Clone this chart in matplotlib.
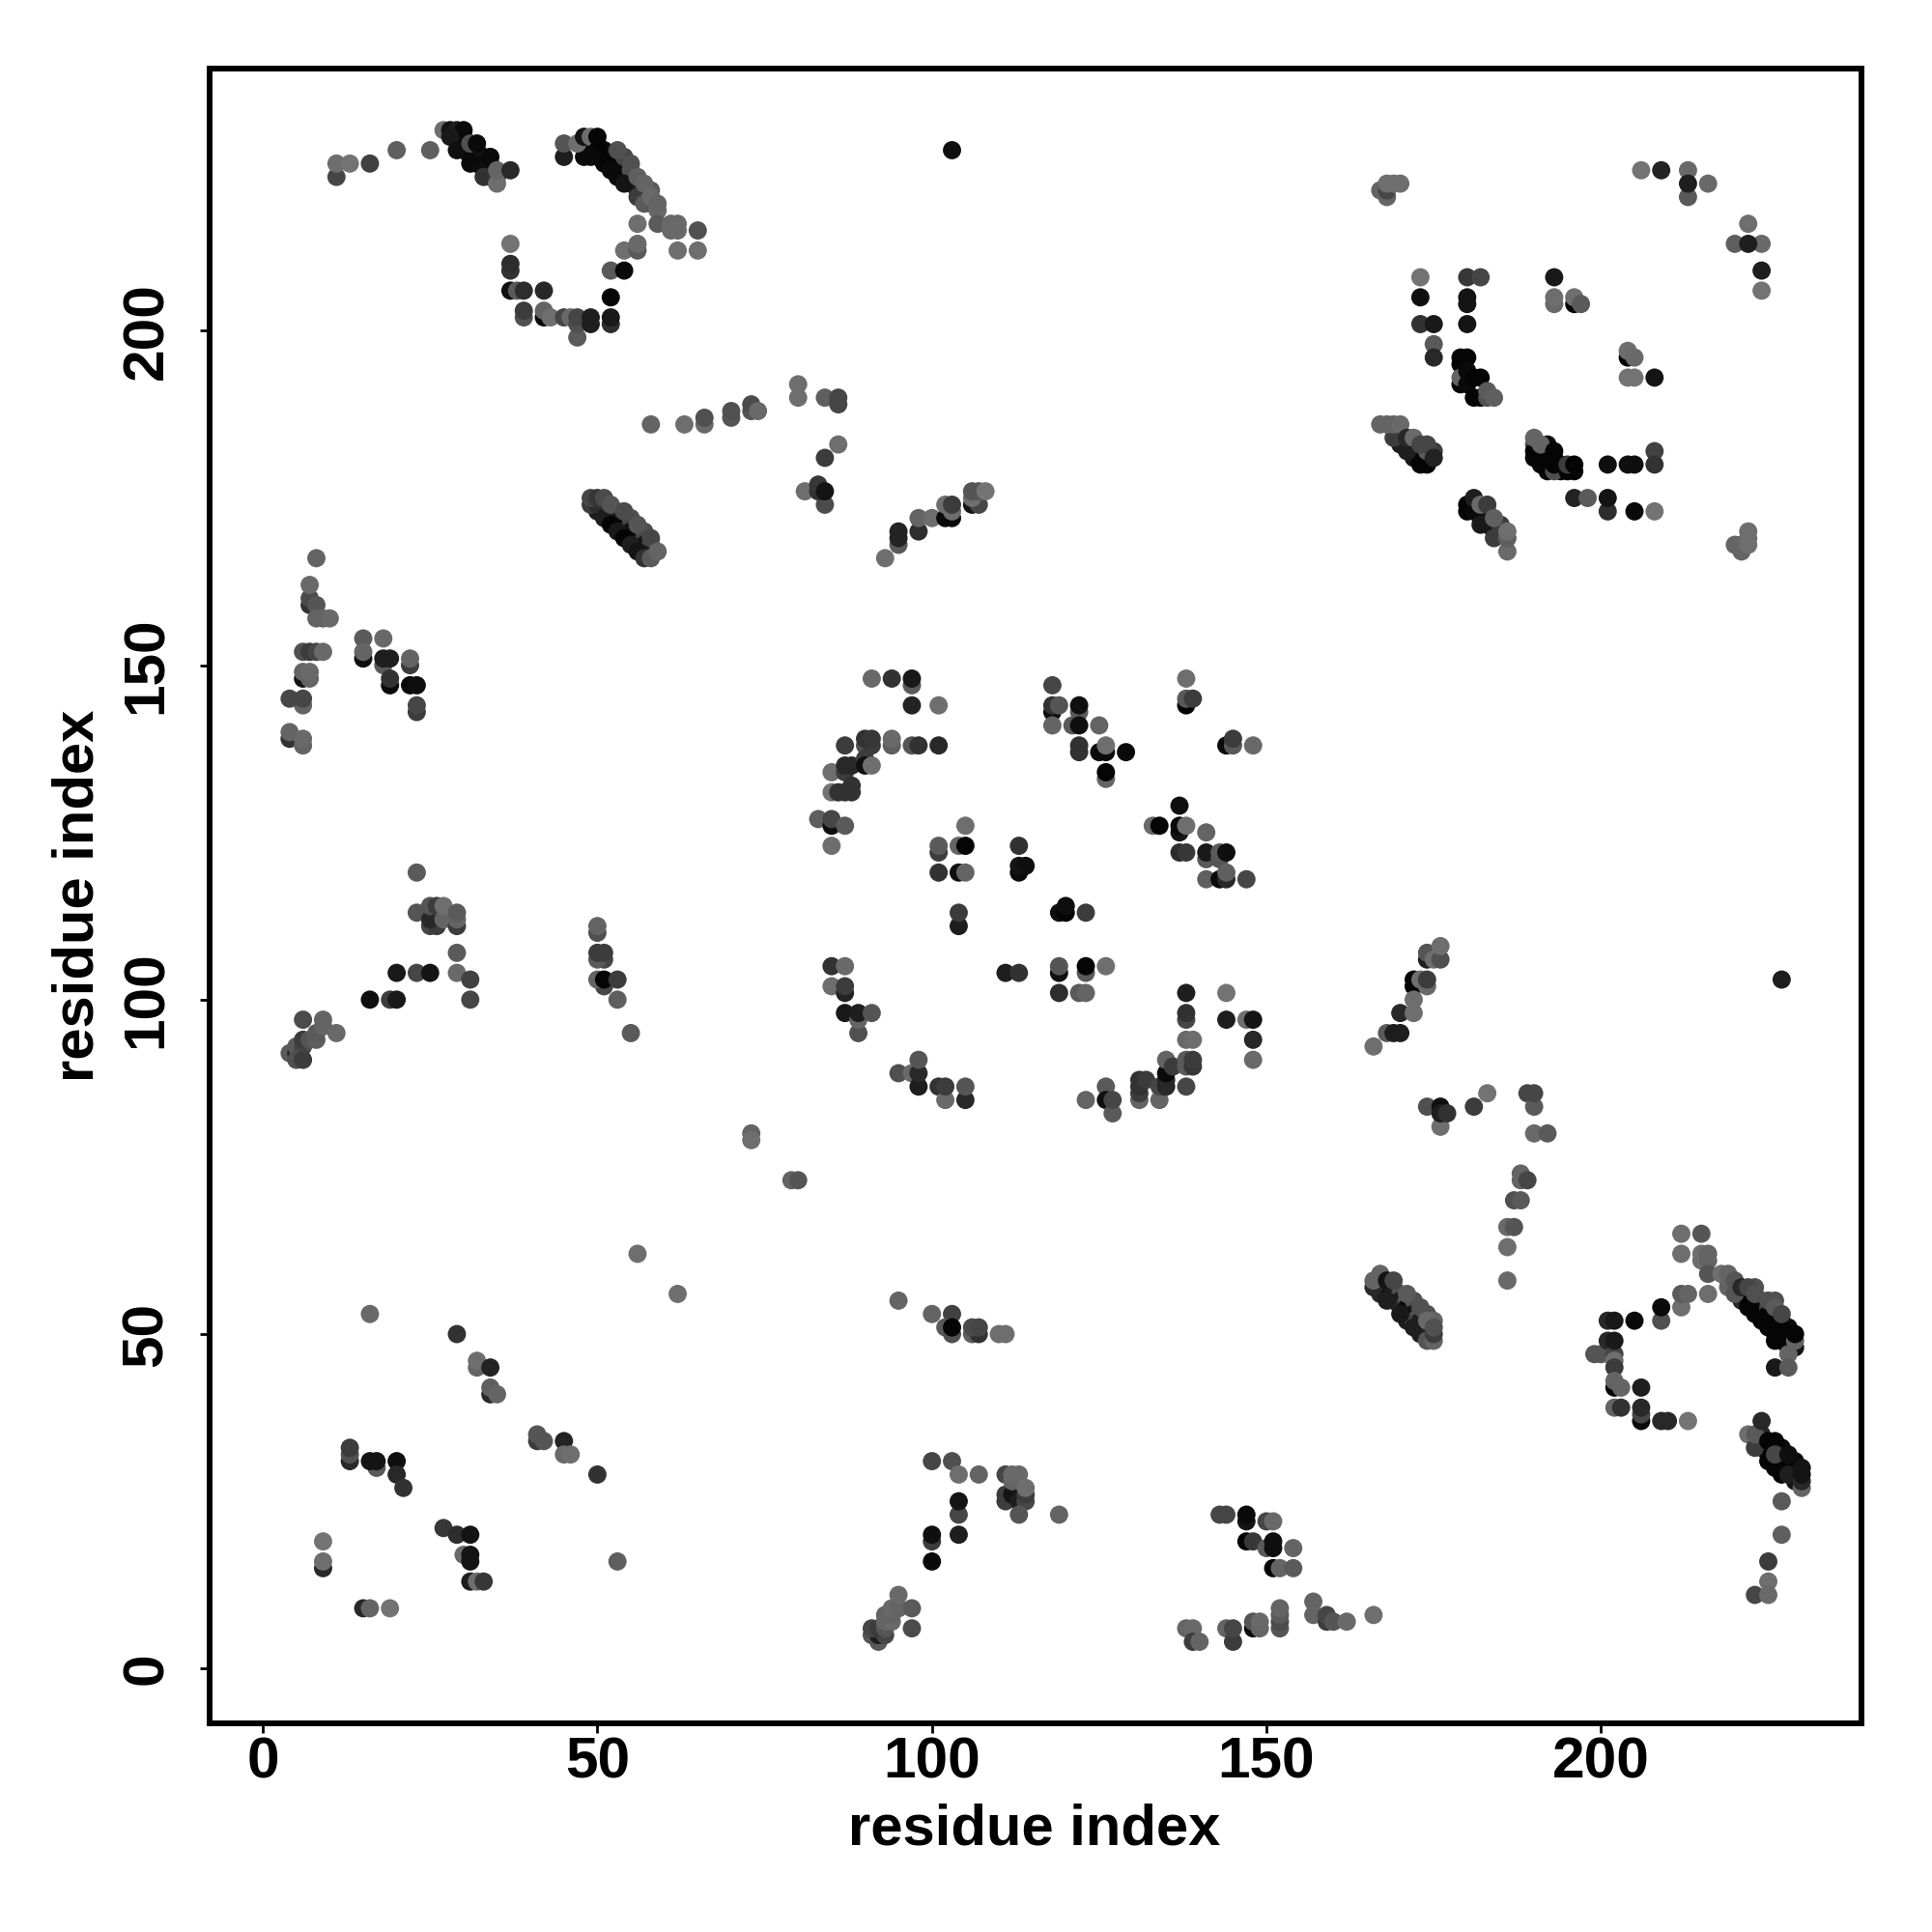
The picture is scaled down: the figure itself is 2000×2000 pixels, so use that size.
import numpy as np
import matplotlib
matplotlib.use('Agg')
import matplotlib.pyplot as plt

plt.rcParams['font.family'] = ['Liberation Sans', 'DejaVu Sans']

# contacts: (residue i, residue j, grey level 0-255)
# later entries sit on top of earlier ones

# contacts mostly hidden inside the dense diagonal bands, drawn first
band_under = [(29,229,15),(30,229,10),(30,228,10),(30,227,10),(31,227,10),(32,227,15),(31,226,10),(32,226,10),
    (33,226,20),(32,225,20),(33,225,10),(34,225,15),(33,224,15),(34,224,15),(34,223,30),(35,223,70),
    (48,228,10),(49,228,5),(49,227,10),(50,228,5),(50,226,5),(51,227,10),(51,226,5),(51,225,5),(48,226,10),
    (52,226,10),(52,225,5),(53,225,5),(53,224,10),(53,223,10),(54,224,15),(54,223,10),(55,223,15),
    (55,222,20),(56,222,30),(56,221,30),(57,221,40),(57,220,50),(54,226,70),(55,224,80),(58,221,90),(58,219,100),
    (50,173,30),(51,173,15),(52,173,70),(53,173,70),(52,172,10),(53,172,30),(53,171,30),(54,171,10),(54,170,20),
    (55,172,80),(55,171,70),(55,170,15),(55,169,20),(56,169,10),(56,168,15),(57,170,80),(57,169,70),
    (57,168,20),(57,167,25),(58,168,70),(58,167,30),
    (170,184,50),(170,183,30),(172,183,30),(172,182,30),(172,181,20),(173,182,15),(173,181,10),(174,181,10),(175,182,60),
    (181,174,10),(182,173,10),(182,172,20),(183,173,40),(183,172,20),(183,171,20),(184,170,25),(185,171,60),(185,170,60),
    (190,183,80),(191,182,10),(191,181,5),(191,180,10),(192,183,10),(192,182,10),(192,181,5),(192,180,5),(194,180,5),(194,179,5),
    (167,56,40),(167,57,30),(168,56,20),(169,57,80),(169,56,30),(169,55,10),(170,56,80),(170,55,30),(170,54,40),
    (171,55,90),(171,54,10),(171,52,30),(172,55,80),(172,53,20),(172,52,70),(173,53,85),(173,52,30),(173,50,30),
    (174,53,80),(174,51,20),(174,50,40),(175,52,100),
    (219,58,80),(220,57,50),(221,56,20),(221,55,40),(222,56,30),(222,55,5),(223,57,80),(223,55,5),(223,54,5),(223,53,5),
    (224,55,70),(224,54,10),(224,53,5),(225,54,70),(225,53,5),(225,52,5),(225,51,5),(226,55,80),(226,53,5),(226,52,5),
    (226,51,5),(226,50,5),(227,52,5),(227,50,5),(227,49,5),(228,51,10),(228,50,5),
    (224,35,40),(224,34,50),(224,33,40),(225,33,5),(225,32,5),(226,33,5),(226,31,5),(226,30,10),(227,33,10),(227,32,5),
    (227,31,5),(227,30,5),(228,31,5),(228,30,5),(229,31,10),(229,30,5),(229,29,5),(229,28,20)]

top_left = [(11,223,70),(11,225,110),(13,225,115),(16,225,65),(20,227,95),(25,227,95),
    (27,230,110),(28,230,20),(29,230,30),(30,230,10),(28,229,25),(29,227,15),(31,228,80),(32,228,10),
    (31,225,10),(33,223,50),(34,226,10),(35,222,110),(35,224,100),(37,224,40),
    (45,226,30),(45,228,85),(47,228,110),(48,229,20),(49,229,110),(50,229,5),(50,227,5),(49,226,10),
    (52,224,10),(54,222,20),(53,227,80),(55,225,80),(56,220,60),(56,223,95),(57,222,100),(57,219,90),
    (58,220,105),(59,218,105),(59,219,100),(56,216,110),(59,216,90),(61,215,105),(62,215,105),
    (61,216,105),(62,216,105),(65,215,80),(62,212,110),(65,212,110),(54,212,110),(56,212,90),(56,213,105),
    (37,213,115),(37,209,50),(37,210,45),(52,209,90),(54,209,10),(37,206,15),(38,206,90),(39,206,45),
    (42,206,40),(52,205,5),(39,202,80),(39,203,60),(42,202,10),(42,203,100),(43,202,110),(45,202,70),
    (46,202,105),(47,199,90),(47,201,80),(47,202,70),(49,201,30),(49,202,30),(52,201,45),(52,202,25)]

top_middle = [(58,186,100),(63,186,110),(66,186,105),(66,187,80),(70,187,85),(70,188,80),(73,188,85),
    (73,189,75),(74,188,105),(80,192,110),(80,190,110),(84,190,95),(86,189,70),(86,190,70),(86,183,110),
    (84,181,60),(81,176,110),(84,174,75),(83,176,50),(83,177,55),(84,176,20),
    (49,174,60),(50,174,45),(51,172,30),(52,171,5),(53,170,25),(54,169,5),(55,168,30),(56,167,20),
    (57,166,50),(49,175,70),(50,175,55),(51,175,75),(52,174,85),(54,173,75),(56,171,85),(58,169,70),
    (58,166,90),(59,167,100),
    (93,166,110),(95,168,90),(95,169,35),(95,170,35),(98,170,45),(98,172,100),(100,172,110),(102,172,10),
    (103,172,10),(102,174,110),(103,173,110),(103,174,60),(106,174,20),(107,174,70),(106,175,110),
    (106,176,85),(107,176,85),(108,176,115),(103,227,15)]

top_right = [(206,224,115),(209,224,35),(213,220,90),(213,224,105),(213,222,30),(216,222,105),(222,216,110),
    (220,213,95),(224,213,105),(222,213,30),(224,209,30),(224,206,115),(173,208,115),(180,208,55),
    (182,208,70),(173,205,15),(180,204,20),(180,205,20),(173,201,50),(175,201,25),(180,201,20),
    (175,198,90),(175,196,40),(179,195,5),(179,196,5),(180,196,5),(179,192,5),(179,193,100),(180,192,10),
    (180,194,10),(181,193,5),(182,193,5),(181,190,5),(182,190,5),(183,190,80),(183,191,90),(184,190,95),
    (168,220,100),(167,221,100),(168,221,70),(168,222,110),(169,222,110),(170,222,110),
    (193,208,25),(193,204,105),(193,205,110),(196,204,5),(196,205,110),(197,204,90),
    (204,196,5),(204,197,110),(205,196,105),(204,193,115),(205,193,115),(208,193,20),
    (169,184,60),(167,186,100),(168,186,100),(169,186,100),(170,186,105),(171,182,30),(171,184,40),
    (172,184,105),(173,180,5),(174,180,5),(174,182,90),(173,183,70),(174,183,70),(175,181,35),
    (180,173,5),(180,174,5),(181,173,10),(181,175,30),(182,174,105),(183,174,60),(182,171,25),(184,169,60),
    (184,172,95),(186,167,105),(186,169,95),(186,170,110),
    (190,181,5),(190,182,5),(190,184,100),(191,183,100),(192,179,5),(193,179,80),(193,180,5),(193,181,5),
    (193,182,5),(195,179,5),(196,179,5),(195,180,60),(196,180,5),(201,180,15),(204,180,15),(205,180,15),
    (208,182,65),(208,180,50),(196,175,35),(198,175,90),(201,173,45),(201,175,20),(205,173,10),(208,173,115),
    (221,168,60),(220,168,100),(221,167,100),(222,168,110),(222,169,110),(222,170,110)]

mid_left = [(8,166,100),(7,159,50),(7,160,75),(8,159,85),(7,162,105),(8,157,100),(9,157,100),(10,157,105),
    (6,152,80),(7,152,60),(8,152,70),(9,152,105),(6,148,20),(7,148,100),(6,149,100),(7,149,105),
    (6,144,100),(4,145,70),(6,145,70),(4,139,50),(4,140,100),(6,138,100),(6,139,105),
    (15,154,90),(18,154,105),(15,151,15),(15,152,100),(18,150,90),(18,151,30),(19,151,30),(22,150,60),
    (22,151,100),(19,147,10),(19,148,50),(22,147,10),(23,147,15),(23,143,60),(23,144,70),
    (23,119,90),(23,113,85),(25,111,70),(26,111,60),(25,112,40),(25,114,85),(26,114,60),(27,112,100),
    (27,114,110),(29,111,60),(29,112,100),(29,113,90),(29,107,90),(29,104,105),(31,103,65),(31,100,70),
    (20,104,25),(23,104,70),(25,104,20),(16,100,15),(19,100,60),(20,100,25),
    (6,97,75),(9,97,100),(4,92,90),(5,92,30),(5,93,90),(6,93,70),(5,91,80),(6,91,60),(6,94,60),(7,94,85),
    (8,94,95),(8,95,90),(9,96,100),(11,95,105),
    (50,110,80),(50,111,100),(51,106,70),(50,106,90),(50,107,60),(51,107,60),(51,102,70),(50,103,100),(51,103,5),
    (53,103,60),(53,100,95),(55,95,90)]

center = [(91,148,105),(94,148,50),(97,147,90),(97,148,25),(97,144,35),(101,144,110),
    (87,138,60),(90,138,80),(91,138,60),(90,139,50),(91,139,55),(94,138,95),(94,139,105),(97,138,85),
    (98,138,50),(101,138,40),(85,134,110),(87,134,60),(87,135,40),(88,135,40),(90,136,60),(90,135,15),
    (91,135,110),(85,131,115),(86,131,50),(87,131,50),(88,131,50),(88,132,50),(83,127,95),(85,126,15),
    (85,127,70),(87,126,90),(85,123,110),(105,126,110),(101,122,60),(101,123,90),(104,123,100),(105,123,5),
    (101,119,50),(104,119,15),(105,119,100),(104,111,30),(104,113,60),(113,123,50),(113,119,10),(113,120,20),
    (114,120,15),(119,113,15),(120,113,5),(120,114,15),(123,113,60),
    (118,147,70),(118,143,15),(118,144,50),(119,144,85),(122,143,90),(122,144,15),(118,141,100),(121,141,90),
    (122,141,15),(125,141,100),(122,137,50),(122,138,50),(125,137,10),(126,137,10),(126,138,110),(129,137,10),
    (126,133,100),(126,134,5),(138,148,110),(138,144,5),(138,145,90),(139,145,60),(144,138,10),(145,138,90),
    (145,139,60),(148,138,105),(137,129,15),(133,126,105),(134,126,5),(137,125,20),(137,126,10),(138,126,110),
    (141,125,100),(137,122,45),(138,122,55),(141,121,90),(141,122,25),(143,121,85),(143,122,90),(144,122,15),
    (141,118,95),(143,118,10),(144,118,40),(144,119,95),(147,118,70),
    (85,105,50),(87,105,105),(85,102,110),(87,101,35),(87,102,60),(87,98,25),(89,95,80),(89,97,100),(89,98,30),
    (91,98,85),(111,104,30),(113,104,50),(119,104,15),(119,105,85),(123,104,90),(123,105,5),(126,105,110),
    (119,101,45),(122,101,90),(123,101,100),(138,101,30),(144,101,115),(138,97,70),(138,98,50),(144,97,30),
    (147,97,110),(148,97,20),(148,94,40),(148,91,105),(138,94,105),(139,94,110),
    (95,89,80),(97,89,105),(98,87,30),(98,89,40),(98,91,85),(101,87,50),(102,85,105),(102,87,60),(105,85,40),
    (105,87,85),(123,85,100),(126,87,90),(126,85,15),(127,83,90),(127,85,70),(131,85,100),(131,86,60),
    (131,87,50),(131,88,50),(132,88,60),(134,85,100),(134,87,70),(135,87,40),(135,88,40),(135,89,10),
    (135,91,100),(136,90,60),(138,90,90),(138,91,90),(139,90,55),(139,91,60),(138,87,70),(79,73,100),(80,73,85),
    (73,80,100),(73,79,110)]

mid_right = [(174,106,30),(174,107,85),(175,106,110),(176,106,80),(176,108,110),(172,102,5),(172,103,5),
    (173,103,110),(174,102,105),(174,103,60),(172,100,110),(170,98,40),(172,98,110),(168,95,90),(169,95,30),
    (170,95,30),(166,93,110),(227,103,30),
    (174,84,80),(176,81,110),(176,84,15),(176,83,30),(177,83,50),(181,84,60),(183,86,115),(189,86,70),
    (190,84,90),(190,86,70),(190,80,105),(192,80,90),(188,74,100),(188,73,100),(189,73,70),(187,70,80),
    (188,70,90),(186,66,105),(187,66,85),(186,63,110),(186,58,105)]

bottom_right = [(166,57,40),(166,58,100),(167,59,100),(168,55,30),(168,58,20),(169,58,70),(170,53,25),(171,56,90),
    (172,51,30),(173,54,80),(174,52,105),(174,49,85),(175,49,100),(175,50,60),(175,51,80),
    (212,65,110),(215,65,85),(212,62,110),(215,61,110),(215,62,110),(216,61,100),(216,62,100),(216,59,85),
    (212,54,110),(212,56,90),(213,56,100),(216,56,110),(209,52,80),(209,54,10),(205,52,10),(201,52,40),
    (202,52,25),(199,47,85),(200,47,85),(201,49,40),(202,47,70),(202,49,25),(202,46,110),(202,45,60),
    (202,42,5),(202,43,100),(203,42,100),(206,42,30),(202,39,100),(203,39,50),(206,37,10),(206,38,70),
    (206,39,40),(209,37,40),(210,37,40),(213,37,115),
    (218,59,110),(219,57,100),(219,59,100),(220,56,85),(220,58,85),(221,57,40),(222,54,5),(222,57,70),
    (224,52,5),(223,56,80),(225,55,80),(226,49,5),(226,54,90),(227,51,5),(227,53,70),(228,48,5),(228,49,5),
    (229,48,20),(229,49,100),(229,50,5),(228,47,100),(226,45,25),(228,45,90),
    (222,35,110),(223,33,60),(223,35,90),(224,37,40),(225,31,5),(225,34,5),(226,34,5),(226,32,70),(227,29,5),
    (228,32,15),(228,29,30),(230,27,100),(230,28,40),(230,29,20),(230,30,20),
    (227,25,90),(227,20,95),(225,16,60),(225,13,110),(223,11,70),(225,11,105)]

bottom_left = [(56,62,110),(62,56,110),(16,53,105),(29,50,50),(32,45,100),(32,46,110),(34,45,35),(34,41,40),
    (34,42,95),(35,41,100),(41,34,60),(41,35,85),(42,34,85),(45,34,35),(45,32,105),(46,32,110),(50,29,50),
    (13,31,40),(13,32,80),(13,33,60),(17,30,90),(16,31,20),(17,31,20),(20,31,15),(20,29,40),(21,27,50),
    (27,21,55),(29,20,45),(31,20,20),(30,17,105),(31,16,20),(31,17,20),(31,13,30),(32,13,110),(33,13,55),
    (9,19,115),(9,15,40),(9,16,110),(53,16,95),(15,9,40),(16,9,100),(19,9,115)]

bottom_middle = [(95,55,100),(100,53,100),(103,53,65),(102,51,90),(103,50,80),(103,51,5),(106,50,95),(107,50,50),
    (106,51,75),(107,51,70),(110,50,110),(111,50,110),
    (100,31,70),(103,31,80),(104,29,110),(107,29,100),(111,25,60),(111,26,60),(112,26,20),(113,25,30),
    (114,25,70),(114,26,60),(113,23,85),(111,29,70),(112,28,100),(112,29,105),(113,29,105),(114,27,110),
    (119,23,100),(104,23,70),(104,25,20),(104,20,30),(100,19,60),(100,20,15),(100,16,10),
    (92,4,90),(91,5,85),(92,5,30),(93,5,70),(91,6,70),(92,6,60),(93,6,85),(97,6,75),(93,7,100),(94,7,105),
    (93,8,100),(94,8,100),(94,9,105),(95,9,100),(97,9,90),(95,11,105),
    (143,23,70),(144,23,70),(147,22,20),(147,23,10),(150,22,70),(151,22,105),(147,19,5),(148,19,55),
    (150,18,90),(151,18,15),(151,19,15),(154,18,100),(151,15,5),(152,15,100),(154,15,90),
    (138,6,100),(139,6,105),(139,4,60),(140,4,100),(144,6,100),(145,4,60),(145,6,70),(148,6,10),(148,7,85),
    (149,6,100),(149,7,105),(152,6,85),(152,7,75),(152,8,90),(152,9,100),(157,8,100),(157,10,100),(159,7,60),
    (159,8,70),(160,7,85),(162,7,105),(166,8,110)]

x_ticks = [0, 50, 100, 150, 200]
y_ticks = [0, 50, 100, 150, 200]

regions = [band_under, top_left, top_middle, top_right, mid_left, center, mid_right,
           bottom_right, bottom_left, bottom_middle]
contacts = np.array([p for r in regions for p in r])

fig = plt.figure(figsize=(20, 20), dpi=100)
ax = fig.add_axes([216.7 / 2000, 1 - 1784 / 2000, (1927.5 - 216.7) / 2000, (1784 - 71) / 2000])
ax.scatter(contacts[:, 0], contacts[:, 1], c=contacts[:, 2], cmap='gray', vmin=0, vmax=255,
           s=185, linewidths=0, clip_on=False)

ax.set_xlim(-8.0, 239.0)
ax.set_ylim(-8.2, 239.2)
ax.set_xticks(x_ticks)
ax.set_yticks(y_ticks)
ax.tick_params(length=7.5, width=2.0, labelsize=43.5)
ax.tick_params(axis='x', pad=2)
ax.tick_params(axis='y', pad=19)
for label in ax.get_xticklabels() + ax.get_yticklabels():
    label.set_fontweight('bold')
for label in ax.get_yticklabels():
    label.set_rotation(90)
    label.set_va('center')
for spine in ax.spines.values():
    spine.set_linewidth(4.3)

fig.text(1071 / 2000, 1 - 1894 / 2000, 'residue index', fontsize=43, fontweight='bold',
         ha='center', va='center')
fig.text(81 / 2000, 1 - 927 / 2000, 'residue index', fontsize=43, fontweight='bold',
         ha='center', va='center', rotation=90)

fig.savefig('out.png', dpi=100)
